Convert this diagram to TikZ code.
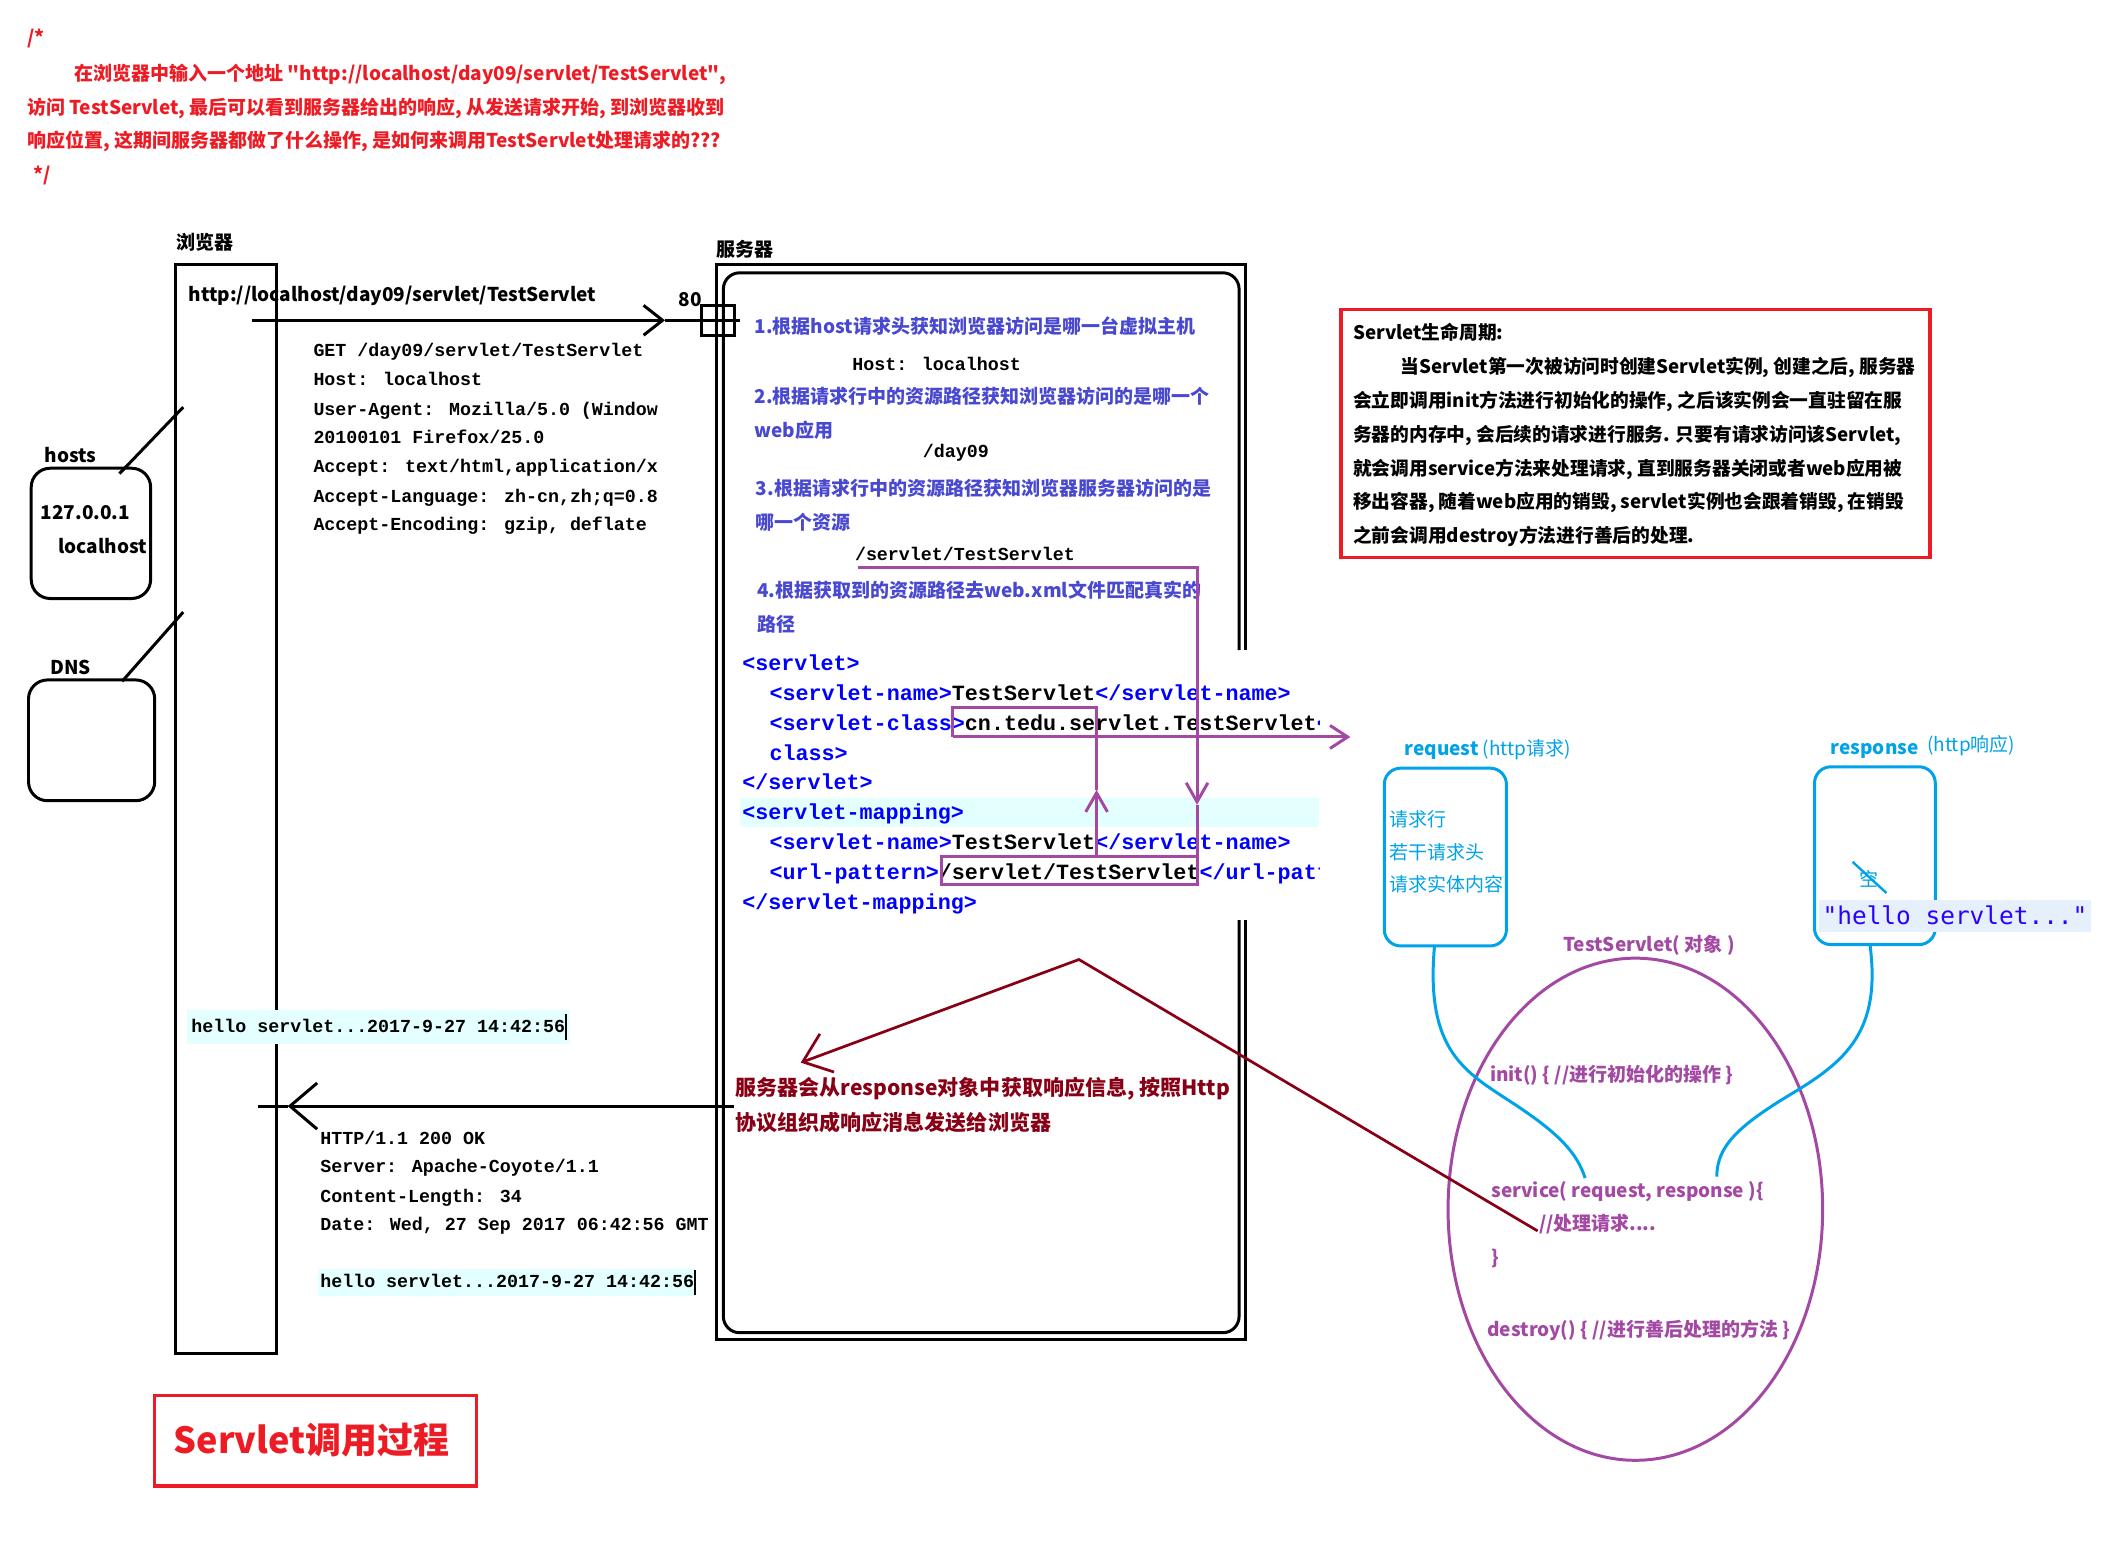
\documentclass[tikz,border=0pt]{standalone}
\usepackage{fontspec}
\setmainfont{Noto Sans CJK SC}
\newfontfamily\quotefont{Noto Sans CJK SC}
\newfontfamily\codefont{Liberation Mono}
\newfontfamily\strfont{DejaVu Sans Mono}
\usetikzlibrary{arrows.meta}

\definecolor{hdrred}{HTML}{ED1C24}
\definecolor{stepblue}{HTML}{4848D0}
\definecolor{tagblue}{HTML}{0000FF}
\definecolor{flowpurple}{HTML}{A349A4}
\definecolor{objcyan}{HTML}{00A2E8}
\definecolor{replyred}{HTML}{880015}
\definecolor{rowhl}{HTML}{E4FFFF}
\definecolor{strhl}{HTML}{E6F0FD}
\definecolor{strblue}{HTML}{2A00FF}

\newcommand{\tg}[1]{\textcolor{tagblue}{#1}}
% straight double quote, set without the TeX input mapping
\newcommand{\dq}{{\quotefont\symbol{34}}}

\begin{document}
\begin{tikzpicture}[x=1pt,y=-1pt,
  tx/.style={anchor=base west,inner sep=0pt,outer sep=0pt},
  hdrtxt/.style={tx,text=hdrred,font=\fontsize{14}{17}\selectfont\bfseries},
  lbltxt/.style={tx,font=\fontsize{14}{17}\selectfont\bfseries},
  lifetxt/.style={tx,font=\fontsize{13.8}{17}\selectfont\bfseries},
  steptxt/.style={tx,text=stepblue,font=\fontsize{14}{17}\selectfont\bfseries},
  monotxt/.style={tx,font=\fontsize{13.5}{16}\codefont\bfseries},
  xmltxt/.style={tx,font=\fontsize{16}{19}\codefont\bfseries},
  cyantxt/.style={tx,text=objcyan,font=\fontsize{14}{17}\selectfont},
  objtxt/.style={tx,text=flowpurple,font=\fontsize{14}{17}\selectfont\bfseries},
  replytxt/.style={tx,text=replyred,font=\fontsize{15.5}{18}\selectfont\bfseries},
  blackline/.style={draw=black,line width=2.2pt},
  flowline/.style={draw=flowpurple,line width=2.2pt},
  cyanline/.style={draw=objcyan,line width=2.2pt},
  replyline/.style={draw=replyred,line width=2pt},
  redframe/.style={draw=hdrred,line width=2.4pt},
]
\fill[white] (0,0) rectangle (1568,1141);
\useasboundingbox (0,0) rectangle (1568,1141);

% ---------- comment block at the top ----------
\node[hdrtxt] (c0) at (20,33) {/*};
\node[hdrtxt] (c1) at (55,59) {在浏览器中输入一个地址 \dq http://localhost/day09/servlet/TestServlet\dq,};
\node[hdrtxt] (c2) at (20,84) {访问 TestServlet, 最后可以看到服务器给出的响应, 从发送请求开始, 到浏览器收到};
\node[hdrtxt] (c3) at (20,109) {响应位置, 这期间服务器都做了什么操作, 是如何来调用TestServlet处理请求的???};
\node[hdrtxt] (c4) at (25,134) {*/};

% ---------- browser ----------
\node[lbltxt] (browserlbl) at (130,184) {浏览器};
\draw[blackline] (129,195) rectangle (204,997);
\node[lbltxt] (url) at (139,222) {http://localhost/day09/servlet/TestServlet};

% hosts and DNS lookups
\node[lbltxt] (hostslbl) at (33,341) {hosts};
\draw[blackline,rounded corners=14pt] (23,345) rectangle (111,441);
\node[lbltxt] (hostip) at (30,383) {127.0.0.1};
\node[lbltxt] (hostname) at (43,408) {localhost};
\node[lbltxt] (dnslbl) at (37,497) {DNS};
\draw[blackline,rounded corners=14pt] (21,501) rectangle (114,590);
\coordinate (hostsa) at (135,300);
\coordinate (hostsb) at (88,349);
\coordinate (dnsa) at (135,451);
\coordinate (dnsb) at (90,502);
\draw[blackline] (hostsa) -- (hostsb);
\draw[blackline] (dnsa) -- (dnsb);

% request message
\node[monotxt] (rq1) at (231,263) {GET /day09/servlet/TestServlet};
\node[monotxt] (rq2) at (231,284) {Host: localhost};
\node[monotxt] (rq3) at (231,306) {User-Agent: Mozilla/5.0 (Window};
\node[monotxt] (rq4) at (231,327) {20100101 Firefox/25.0};
\node[monotxt] (rq5) at (231,348) {Accept: text/html,application/x};
\node[monotxt] (rq6) at (231,370) {Accept-Language: zh-cn,zh;q=0.8};
\node[monotxt] (rq7) at (231,391) {Accept-Encoding: gzip, deflate};

% response shown in the browser
\fill[rowhl] (138,744) rectangle (420,769);
\node[monotxt] (shown) at (141,761) {hello servlet...2017-9-27 14:42:56};
\draw[line width=1.3pt] (417,747) -- (417,766);

% ---------- server ----------
\node[lbltxt] (serverlbl) at (528,189) {服务器};
\draw[blackline] (918,479) -- (918,195) -- (528,195) -- (528,987) -- (918,987) -- (918,678);
\draw[blackline,rounded corners=12pt] (913,479) -- (913,201) -- (533,201) -- (533,982) -- (913,982) -- (913,678);
\node[lbltxt] (portlbl) at (500,226) {80};
\node[draw,line width=2pt,minimum width=24pt,minimum height=22pt,inner sep=0pt] (port) at (529,236) {};

% request arrow
\coordinate (reqfrom) at (186,236);
\coordinate (reqtip) at (490,236);
\coordinate (reqend) at (545,236);
\draw[blackline,-{Straight Barb[length=14pt,width=22pt]}] (reqfrom) -- (reqtip);
\draw[blackline] (reqtip) -- (port.center) -- (reqend);

% processing steps
\node[steptxt] (s1) at (556,246) {1.根据host请求头获知浏览器访问是哪一台虚拟主机};
\node[monotxt] (s1v) at (628,273) {Host: localhost};
\node[steptxt] (s2) at (556,297) {2.根据请求行中的资源路径获知浏览器访问的是哪一个};
\node[steptxt] (s2b) at (556,322) {web应用};
\node[monotxt] (s2v) at (680,337) {/day09};
\node[steptxt] (s3) at (557,365) {3.根据请求行中的资源路径获知浏览器服务器访问的是};
\node[steptxt] (s3b) at (557,390) {哪一个资源};
\node[monotxt] (s3v) at (630,413) {/servlet/TestServlet};
\node[steptxt] (s4) at (558,440) {4.根据获取到的资源路径去web.xml文件匹配真实的};
\node[steptxt] (s4b) at (558,465) {路径};

% web.xml excerpt
\begin{scope}
\clip (540,470) rectangle (972,690);
\fill[rowhl] (545,588) rectangle (972,609);
\node[xmltxt] (x1) at (547,494) {\tg{<servlet>}};
\node[xmltxt] (x2) at (567,516) {\tg{<servlet-name>}TestServlet\tg{</servlet-name>}};
\node[xmltxt] (x3) at (567,538) {\tg{<servlet-class>}cn.tedu.servlet.TestServlet\tg{</servlet-}};
\node[xmltxt] (x4) at (567,560) {\tg{class>}};
\node[xmltxt] (x5) at (547,582) {\tg{</servlet>}};
\node[xmltxt] (x6) at (547,604) {\tg{<servlet-mapping>}};
\node[xmltxt] (x7) at (567,626) {\tg{<servlet-name>}TestServlet\tg{</servlet-name>}};
\node[xmltxt] (x8) at (567,648) {\tg{<url-pattern>}/servlet/TestServlet\tg{</url-pattern>}};
\node[xmltxt] (x9) at (547,670) {\tg{</servlet-mapping>}};
\end{scope}

% mapping flow through web.xml
\coordinate (pathstart) at (632,418);
\coordinate (pathcorner) at (882,418);
\coordinate (downtip) at (882,593);
\coordinate (urlne) at (882,631);
\coordinate (urlsw) at (694,652);
\coordinate (namefoot) at (808,631);
\coordinate (uptip) at (808,582);
\coordinate (classtop) at (808,521);
\coordinate (classnw) at (702,521);
\coordinate (classsw) at (702,543);
\coordinate (classtip) at (995,543);
\draw[flowline,-{Straight Barb[length=14pt,width=16pt]}] (pathstart) -- (pathcorner) -- (downtip);
\draw[flowline] (downtip) -- (urlne);
\draw[flowline] (urlsw) rectangle (urlne);
\draw[flowline,-{Straight Barb[length=14pt,width=16pt]}] (namefoot) -- (uptip);
\draw[flowline] (uptip) -- (classtop) -- (classnw) -- (classsw);
\draw[flowline,-{Straight Barb[length=13pt,width=17pt]}] (classsw) -- (classtip);

% reply note
\node[replytxt] (r1) at (542,807) {服务器会从response对象中获取响应信息, 按照Http};
\node[replytxt] (r2) at (542,833) {协议组织成响应消息发送给浏览器};

% response arrow and message
\coordinate (respfrom) at (541,815);
\coordinate (resptip) at (212,815);
\coordinate (respend) at (190,815);
\draw[blackline,-{Straight Barb[length=20pt,width=34pt]}] (respfrom) -- (resptip);
\draw[blackline] (resptip) -- (respend);
\node[monotxt] (rs1) at (236,843) {HTTP/1.1 200 OK};
\node[monotxt] (rs2) at (236,864) {Server: Apache-Coyote/1.1};
\node[monotxt] (rs3) at (236,886) {Content-Length: 34};
\node[monotxt] (rs4) at (236,907) {Date: Wed, 27 Sep 2017 06:42:56 GMT};
\fill[rowhl] (234,935) rectangle (513,955);
\node[monotxt] (rs5) at (236,949) {hello servlet...2017-9-27 14:42:56};
\draw[line width=1.3pt] (512,936) -- (512,954);

% ---------- servlet life cycle ----------
\draw[redframe] (988,228) rectangle (1422,411);
\node[lifetxt] (lc0) at (997,250) {Servlet生命周期:};
\node[lifetxt] (lc1) at (1032,275) {当Servlet第一次被访问时创建Servlet实例, 创建之后, 服务器};
\node[lifetxt] (lc2) at (997,300) {会立即调用init方法进行初始化的操作, 之后该实例会一直驻留在服};
\node[lifetxt] (lc3) at (997,325) {务器的内存中, 会后续的请求进行服务. 只要有请求访问该Servlet,};
\node[lifetxt] (lc4) at (997,350) {就会调用service方法来处理请求, 直到服务器关闭或者web应用被};
\node[lifetxt] (lc5) at (997,375) {移出容器, 随着web应用的销毁, servlet实例也会跟着销毁, 在销毁};
\node[lifetxt] (lc6) at (997,400) {之前会调用destroy方法进行善后的处理.};

% request object
\node[cyantxt] (reqlbl) at (1035,557) {\bfseries request \mdseries(http请求)};
\draw[cyanline,rounded corners=12pt] (1020,566) rectangle (1110,697);
\node[cyantxt] (rqa) at (1024,609) {请求行};
\node[cyantxt] (rqb) at (1024,633) {若干请求头};
\node[cyantxt] (rqc) at (1024,657) {请求实体内容};

% response object
\node[cyantxt,font=\fontsize{14}{17}\selectfont\bfseries] (resplbl) at (1349,556) {response};
\node[cyantxt] (resplbl2) at (1420,554) {(http响应)};
\draw[cyanline,rounded corners=12pt] (1337,565) rectangle (1426,696);
\node[cyantxt] (empty) at (1370,653) {空};
\draw[objcyan,line width=1.8pt] (1365,635) -- (1390,658);
\fill[strhl] (1340,663) rectangle (1541,687);
\node[tx,text=strblue,font=\fontsize{18}{21}\strfont] (body) at (1343,681) {"hello servlet..."};

% servlet object
\node[objtxt] (objlbl) at (1152,701) {TestServlet( 对象 )};
\coordinate (objc) at (1205,891);
\draw[flowline] (objc) ellipse [x radius=138pt, y radius=185pt];
\node[objtxt] (m1) at (1098,797) {init() \{ //进行初始化的操作 \}};
\node[objtxt] (m2) at (1099,882) {service( request, response )\{};
\node[objtxt] (m3) at (1134,907) {//处理请求....};
\node[objtxt] (m4) at (1099,932) {\}};
\node[objtxt] (m5) at (1096,985) {destroy() \{ //进行善后处理的方法 \}};

% object links
\coordinate (reqfoot) at (1057,697);
\coordinate (reqparam) at (1168,868);
\coordinate (respfoot) at (1378,697);
\coordinate (respparam) at (1265,867);
\draw[cyanline] (reqfoot) .. controls (1050,775) and (1080,790) .. (1115,813) .. controls (1150,836) and (1162,850) .. (reqparam);
\draw[cyanline] (respfoot) .. controls (1386,760) and (1360,782) .. (1320,806) .. controls (1280,830) and (1265,845) .. (respparam);

% reply path
\coordinate (handle) at (1133,907);
\coordinate (apex) at (795,707);
\coordinate (replytip) at (590,783);
\draw[replyline,-{Straight Barb[length=19pt,width=30pt]}] (handle) -- (apex) -- (replytip);

% ---------- title ----------
\draw[redframe] (114,1028) rectangle (351,1095);
\node[tx,text=hdrred,font=\fontsize{26.5}{30}\selectfont\bfseries] (title) at (128,1071) {Servlet调用过程};
\end{tikzpicture}
\end{document}
